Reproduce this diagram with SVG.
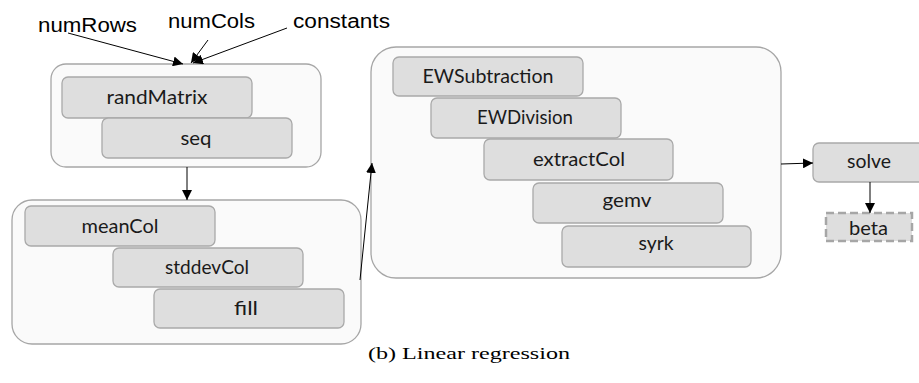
<svg xmlns="http://www.w3.org/2000/svg" width="919" height="383" viewBox="0 0 919 383">
<style>
.grp{fill:#fafafa;stroke:#a6a6a6;stroke-width:1.3}
.op{fill:#dedede;stroke:#a9a9a9;stroke-width:1.3}
.lbl{font-family:Lato,"Open Sans","Liberation Sans",sans-serif;font-size:19px;fill:#1a1a1a;text-anchor:middle}
.inp{font-family:"Liberation Sans",Arial,sans-serif;font-size:20px;fill:#000}
.cap{font-family:"Liberation Serif","DejaVu Serif",serif;font-size:16px;fill:#000}
.con{stroke:#000;stroke-width:1;fill:none;marker-end:url(#ah)}
</style>
<defs>
<marker id="ah" viewBox="0 0 10 10" refX="10" refY="5" markerWidth="10" markerHeight="10" markerUnits="userSpaceOnUse" orient="auto">
<path d="M0,0 L10,5 L0,10 z" fill="#000"/>
</marker>
</defs>
<rect width="919" height="383" fill="#fff"/>
<g id="inputs">
<text class="inp" x="38" y="32" textLength="99" lengthAdjust="spacingAndGlyphs">numRows</text>
<text class="inp" x="168" y="28" textLength="87" lengthAdjust="spacingAndGlyphs">numCols</text>
<text class="inp" x="293" y="28" textLength="97" lengthAdjust="spacingAndGlyphs">constants</text>
</g>
<g id="group1">
<rect class="grp" x="51" y="64" width="270" height="103" rx="15"/>
<g id="randMatrix"><rect class="op" x="62" y="77" width="190" height="41" rx="6"/><text class="lbl" x="157" y="104" textLength="101" lengthAdjust="spacingAndGlyphs">randMatrix</text></g>
<g id="seq"><rect class="op" x="102" y="118" width="190" height="40" rx="6"/><text class="lbl" x="196" y="145" textLength="31" lengthAdjust="spacingAndGlyphs">seq</text></g>
</g>
<g id="group2">
<rect class="grp" x="12" y="200" width="349" height="144" rx="20"/>
<g id="meanCol"><rect class="op" x="25" y="206" width="190" height="40" rx="6"/><text class="lbl" x="120" y="233" textLength="77" lengthAdjust="spacingAndGlyphs">meanCol</text></g>
<g id="stddevCol"><rect class="op" x="113" y="248" width="190" height="39" rx="6"/><text class="lbl" x="207" y="274" textLength="84" lengthAdjust="spacingAndGlyphs">stddevCol</text></g>
<g id="fill"><rect class="op" x="154" y="289" width="190" height="39" rx="6"/><text class="lbl" x="246" y="315" textLength="24" lengthAdjust="spacingAndGlyphs">fill</text></g>
</g>
<g id="group3">
<rect class="grp" x="371" y="47" width="410" height="231" rx="25"/>
<g id="EWSubtraction"><rect class="op" x="393" y="57" width="190" height="39" rx="6"/><text class="lbl" x="488" y="83" textLength="131" lengthAdjust="spacingAndGlyphs">EWSubtraction</text></g>
<g id="EWDivision"><rect class="op" x="431" y="98" width="190" height="40" rx="6"/><text class="lbl" x="525" y="124" textLength="96" lengthAdjust="spacingAndGlyphs">EWDivision</text></g>
<g id="extractCol"><rect class="op" x="484" y="139" width="189" height="41" rx="6"/><text class="lbl" x="579" y="166" textLength="92" lengthAdjust="spacingAndGlyphs">extractCol</text></g>
<g id="gemv"><rect class="op" x="533" y="183" width="190" height="40" rx="6"/><text class="lbl" x="627" y="207" textLength="49" lengthAdjust="spacingAndGlyphs">gemv</text></g>
<g id="syrk"><rect class="op" x="562" y="226" width="189" height="41" rx="6"/><text class="lbl" x="656" y="250" textLength="35" lengthAdjust="spacingAndGlyphs">syrk</text></g>
</g>
<g id="solve"><rect class="op" x="813" y="143" width="120" height="39" rx="6"/><text class="lbl" x="869" y="168" textLength="44" lengthAdjust="spacingAndGlyphs">solve</text></g>
<g id="beta"><rect x="826" y="213" width="86" height="28" fill="#dedede" stroke="#a6a6a6" stroke-width="2.5" stroke-dasharray="8,4"/><text class="lbl" x="868.5" y="235" textLength="39" lengthAdjust="spacingAndGlyphs">beta</text></g>
<g id="connectors">
<line class="con" x1="68" y1="33" x2="183" y2="64"/>
<line class="con" x1="208" y1="40" x2="191" y2="63"/>
<line class="con" x1="287" y1="28" x2="193" y2="63"/>
<line class="con" x1="187" y1="167" x2="187" y2="200"/>
<line class="con" x1="360" y1="280" x2="372" y2="163"/>
<line class="con" x1="781" y1="164" x2="813" y2="163"/>
<line class="con" x1="870" y1="182" x2="870" y2="213"/>
</g>
<text class="cap" x="368" y="359" textLength="202" lengthAdjust="spacingAndGlyphs">(b) Linear regression</text>
</svg>
